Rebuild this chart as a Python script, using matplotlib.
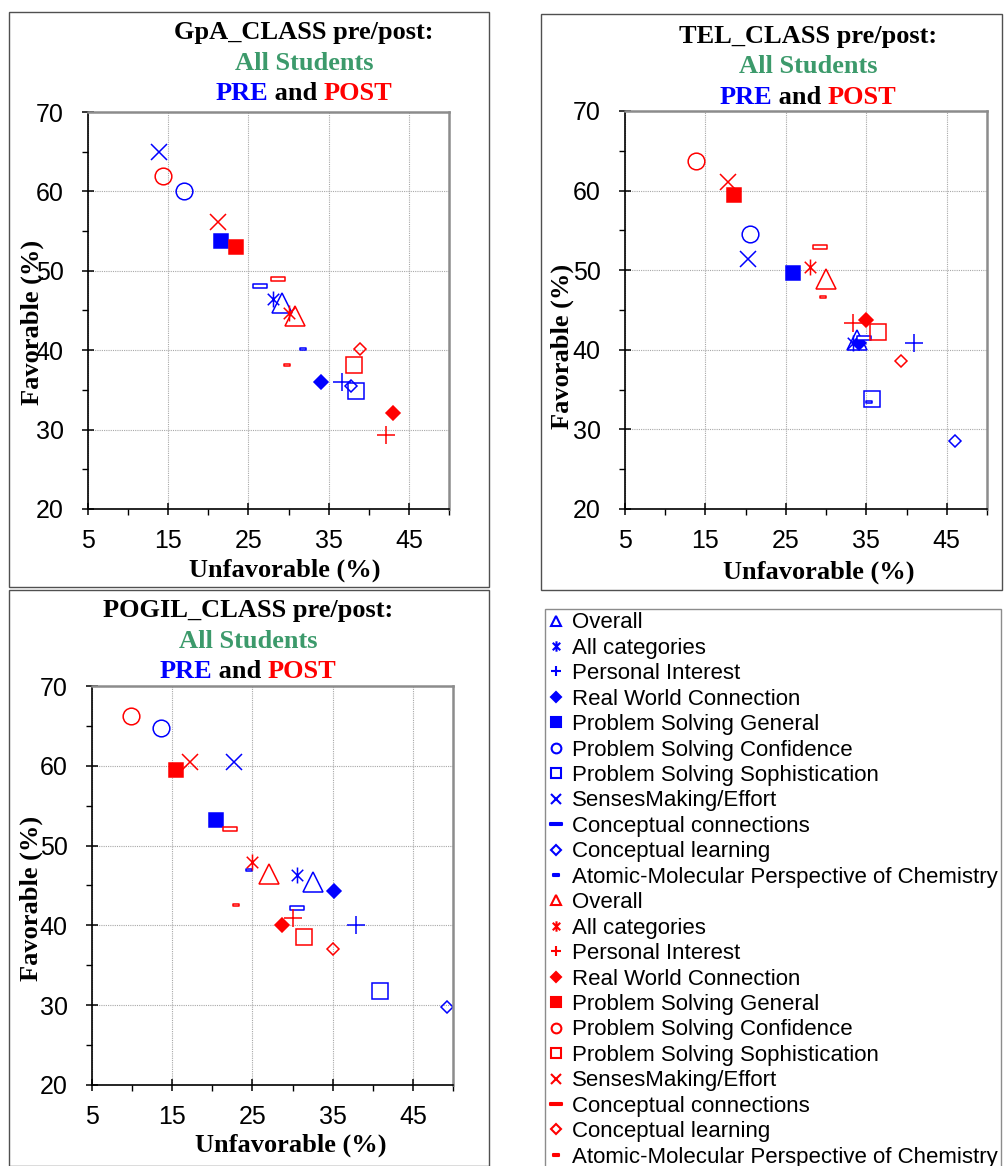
import numpy as np
import matplotlib
matplotlib.use("Agg")
import matplotlib.pyplot as plt
from matplotlib.path import Path
from matplotlib.lines import Line2D
from matplotlib.patches import Rectangle

W, H = 1005, 1166

categories = ["Overall", "All categories", "Personal Interest", "Real World Connection",
              "Problem Solving General", "Problem Solving Confidence",
              "Problem Solving Sophistication", "SensesMaking/Effort",
              "Conceptual connections", "Conceptual learning",
              "Atomic-Molecular Perspective of Chemistry"]

# (unfavorable, favorable) in category order
gpa_pre_x = [29.2, 28.0, 36.7, 34.1, 21.6, 17.0, 38.4, 13.8, 26.4, 37.8, 31.8]
gpa_pre_y = [46.0, 46.5, 36.0, 36.0, 53.7, 60.1, 34.9, 65.0, 48.1, 35.5, 40.1]
gpa_post_x = [30.8, 30.1, 42.1, 43.0, 23.4, 14.3, 38.2, 21.2, 28.7, 38.9, 29.8]
gpa_post_y = [44.3, 44.7, 29.3, 32.1, 53.0, 62.0, 38.1, 56.1, 49.0, 40.2, 38.1]

tel_pre_x = [33.8, 33.3, 40.9, 34.1, 25.9, 20.5, 35.7, 20.3, 34.7, 46.0, 35.3]
tel_pre_y = [41.2, 40.9, 40.9, 40.9, 49.6, 54.5, 33.8, 51.4, 41.5, 28.5, 33.4]
tel_post_x = [30.0, 28.0, 33.3, 35.0, 18.6, 13.8, 36.4, 17.8, 29.3, 39.3, 29.6]
tel_post_y = [48.9, 50.4, 43.4, 43.7, 59.5, 63.7, 42.2, 61.1, 52.9, 38.6, 46.6]

pogil_pre_x = [32.6, 30.6, 37.9, 35.2, 20.4, 13.6, 40.9, 22.7, 30.5, 49.3, 24.6]
pogil_pre_y = [45.5, 46.3, 40.1, 44.3, 53.2, 64.7, 31.8, 60.5, 42.2, 29.8, 47.0]
pogil_post_x = [27.1, 24.9, 30.0, 28.7, 15.5, 9.9, 31.4, 17.2, 22.2, 35.0, 22.9]
pogil_post_y = [46.4, 48.0, 40.9, 40.0, 59.5, 66.2, 38.5, 60.5, 52.1, 37.1, 42.5]

panel_names = ["GpA_CLASS pre/post:", "TEL_CLASS pre/post:", "POGIL_CLASS pre/post:"]

x_major = [5, 15, 25, 35, 45]
x_minor = [10, 20, 30, 40, 50]
y_major = [20, 30, 40, 50, 60, 70]
y_minor = [25, 35, 45, 55, 65]

BLUE, RED, GREEN = "#0000ff", "#ff0000", "#3c9a6b"
SERIF = "Liberation Serif"
SANS = "Liberation Sans"

M, L, C = Path.MOVETO, Path.LINETO, Path.CLOSEPOLY
star = Path([(0, -0.5), (0, 0.5), (-0.36, -0.36), (0.36, 0.36), (-0.36, 0.36), (0.36, -0.36)],
            [M, L, M, L, M, L])
dash_long = Path([(-0.5, -0.11), (0.5, -0.11), (0.5, 0.11), (-0.5, 0.11), (-0.5, -0.11)],
                 [M, L, L, L, C])
dash_short = Path([(-0.5, -0.2), (0.5, -0.2), (0.5, 0.2), (-0.5, 0.2), (-0.5, -0.2)],
                  [M, L, L, L, C])

# marker, size on plot, size in legend, fill kind
styles = [("^", 15, 7.5, "open"),
          (star, 11.5, 7.5, "line"),
          ("+", 13, 7.5, "line"),
          ("D", 7, 5.5, "fill"),
          ("s", 10, 7, "fill"),
          ("o", 12, 7, "open"),
          ("s", 12, 7, "open"),
          ("x", 11.5, 7, "line"),
          (dash_long, 10, 8, "white"),
          ("D", 6.5, 5.5, "open"),
          (dash_short, 5, 4.5, "white")]


def draw(ax, xs, ys, color):
    for x, y, (mk, ms, _, kind) in zip(xs, ys, styles):
        face = color if kind == "fill" else ("white" if kind == "white" else "none")
        ax.plot([x], [y], linestyle="none", marker=mk, markersize=ms,
                markeredgecolor=color, markerfacecolor=face, markeredgewidth=1.1)


def setup(ax):
    ax.set_xlim(5, 50)
    ax.set_ylim(20, 70)
    ax.set_xticks(x_major)
    ax.set_xticks(x_minor, minor=True)
    ax.set_yticks(y_major)
    ax.set_yticks(y_minor, minor=True)
    ax.grid(True, which="major", color="#a8a8a8", linestyle=(0, (1, 1)), linewidth=0.8)
    ax.set_axisbelow(True)
    for s in ["left", "bottom"]:
        ax.spines[s].set_color("black")
        ax.spines[s].set_linewidth(1.2)
    for s in ["top", "right"]:
        ax.spines[s].set_color("#8c8c8c")
        ax.spines[s].set_linewidth(1.8)
    ax.tick_params(which="major", direction="inout", length=9, width=1.1, labelsize=18)
    ax.tick_params(which="minor", direction="out", length=4, width=1.0)
    ax.xaxis.set_tick_params(which="major", pad=10)
    ax.yaxis.set_tick_params(which="major", pad=13)
    for lab in ax.get_xticklabels() + ax.get_yticklabels():
        lab.set_fontfamily(SANS)


def colored_line(fig, xc, y, parts, **kw):
    r = fig.canvas.get_renderer()
    txts = [fig.text(0, 1 - y / H, s, color=c, va="center", **kw) for s, c in parts]
    widths = [t.get_window_extent(r).width for t in txts]
    x = xc - sum(widths) / 2
    for t, w in zip(txts, widths):
        t.set_x(x / W)
        x += w


fig = plt.figure(figsize=(W / 100, H / 100), dpi=100)

# panel frames
for (x0, y0, x1, y1) in [(9, 12, 489, 587), (541, 14, 1002, 590), (9, 590, 489, 1166)]:
    fig.patches.append(Rectangle((x0 / W, 1 - y1 / H), (x1 - x0) / W, (y1 - y0) / H,
                                 transform=fig.transFigure, fill=False,
                                 edgecolor="#505050", linewidth=1.0))

# axes boxes in pixels: left, right, top, bottom
boxes = [(88, 449, 112, 509), (625, 987, 111, 509), (92, 453, 686, 1085)]
data = [(gpa_pre_x, gpa_pre_y, gpa_post_x, gpa_post_y),
        (tel_pre_x, tel_pre_y, tel_post_x, tel_post_y),
        (pogil_pre_x, pogil_pre_y, pogil_post_x, pogil_post_y)]
title_pos = [(304, 33), (808, 36), (248, 611)]
xlabel_pos = [(285, 570), (819, 572), (291, 1145)]
ylabel_pos = [(32, 322), (562, 346), (31, 898)]

tkw = dict(fontfamily=SERIF, fontweight="bold", fontsize=19)
for box, d, name, tp, xp, yp in zip(boxes, data, panel_names, title_pos, xlabel_pos, ylabel_pos):
    l, r, t, b = box
    ax = fig.add_axes([l / W, 1 - b / H, (r - l) / W, (b - t) / H])
    setup(ax)
    draw(ax, d[0], d[1], BLUE)
    draw(ax, d[2], d[3], RED)
    fig.text(tp[0] / W, 1 - tp[1] / H, name, ha="center", va="center", color="black", **tkw)
    fig.text(tp[0] / W, 1 - (tp[1] + 30.5) / H, "All Students", ha="center", va="center",
             color=GREEN, **tkw)
    colored_line(fig, tp[0], tp[1] + 61, [("PRE", BLUE), (" and ", "black"), ("POST", RED)], **tkw)
    fig.text(xp[0] / W, 1 - xp[1] / H, "Unfavorable (%)", ha="center", va="center", **tkw)
    fig.text(yp[0] / W, 1 - yp[1] / H, "Favorable (%)", ha="center", va="center",
             rotation=90, **tkw)

# legend
handles = []
labels = []
for color in [BLUE, RED]:
    for name, (mk, _, lms, kind) in zip(categories, styles):
        face = "none" if kind in ("open", "line") else color
        handles.append(Line2D([], [], linestyle="none", marker=mk, markersize=lms,
                              markeredgecolor=color, markerfacecolor=face, markeredgewidth=1.5))
        labels.append(name)

leg = fig.legend(handles, labels, loc="upper left", bbox_to_anchor=(545 / W, 1 - 609 / H),
                 borderaxespad=0, frameon=True, fancybox=False, edgecolor="#707070",
                 prop={"family": SANS, "size": 16}, handlelength=0.7, handletextpad=0.35,
                 labelspacing=0.2, borderpad=0.15)
leg.get_frame().set_linewidth(1.0)

fig.savefig("out.png", dpi=100)
